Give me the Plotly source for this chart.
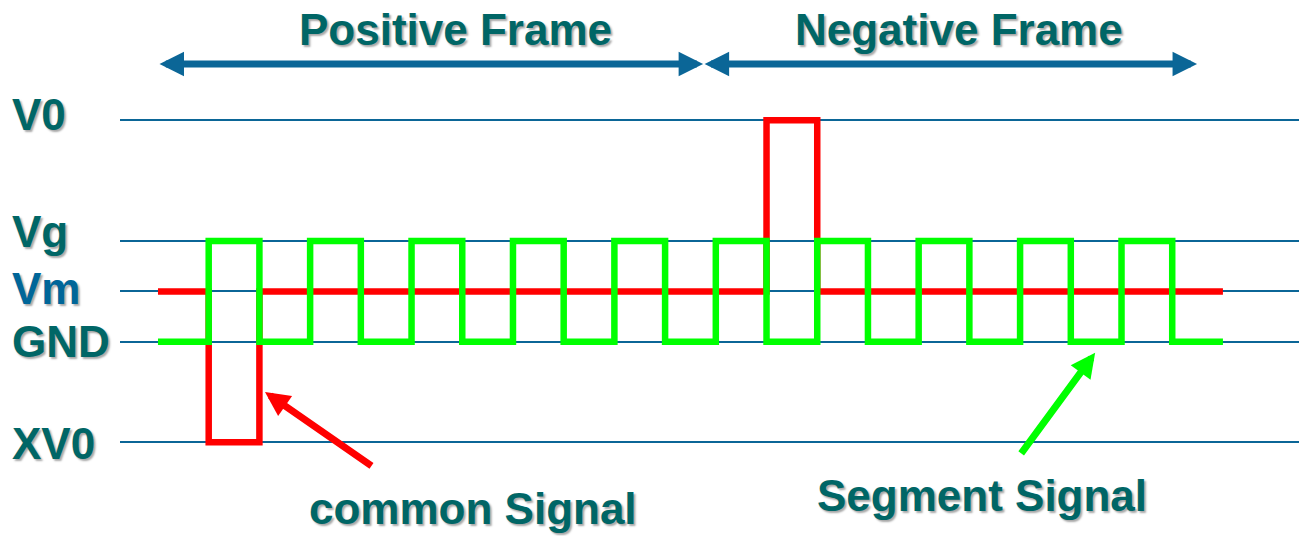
import plotly.graph_objects as go

# ---- data ----
level_names = ["V0", "Vg", "Vm", "GND", "XV0"]
level_values = [4.4, 2.0, 1.0, 0.0, -2.0]
lv = dict(zip(level_names, level_values))

time_slots = [0, 1, 2, 3, 4, 5, 6, 7, 8, 9, 10, 11, 12, 13, 14, 15, 16, 17, 18, 19, 20, 21]
segment_states = ["GND", "Vg", "GND", "Vg", "GND", "Vg", "GND", "Vg", "GND", "Vg", "GND",
                  "Vg", "GND", "Vg", "GND", "Vg", "GND", "Vg", "GND", "Vg", "GND", "GND"]
common_states = ["Vm", "XV0", "Vm", "Vm", "Vm", "Vm", "Vm", "Vm", "Vm", "Vm", "Vm",
                 "Vm", "V0", "Vm", "Vm", "Vm", "Vm", "Vm", "Vm", "Vm", "Vm", "Vm"]
segment_values = [lv[s] for s in segment_states]
common_values = [lv[s] for s in common_states]

frame_bounds = [0.0, 10.75, 20.49]
frame_names = ["Positive Frame", "Negative Frame"]

TEAL = "#006666"
BLUE = "#006699"
LINE = "#0b6697"
SHADOW = "2px 2px 2px #a8a8a8"

def font(color=TEAL):
    return dict(family="Liberation Sans, Arial, sans-serif", size=44, color=color,
                weight="bold", shadow=SHADOW)

fig = go.Figure()
fig.add_trace(go.Scatter(x=time_slots, y=common_values, mode="lines", line_shape="hv",
                         line=dict(color="#ff0000", width=6.5), hoverinfo="skip"))
fig.add_trace(go.Scatter(x=time_slots, y=segment_values, mode="lines", line_shape="hv",
                         line=dict(color="#00ff00", width=6.5), hoverinfo="skip"))

ann = []
# level labels
label_offsets = {"V0": 0.11, "Vg": 0.20, "Vm": 0.05, "GND": 0.0, "XV0": -0.02}
for name, val in zip(level_names, level_values):
    ann.append(dict(xref="paper", yref="y", x=0.008, y=val + label_offsets[name],
                    xanchor="left", yanchor="middle", showarrow=False, text=name,
                    font=font(BLUE if name == "Vm" else TEAL)))

# frame arrows and titles
arrow_y = 5.52
for i, name in enumerate(frame_names):
    a, b = frame_bounds[i], frame_bounds[i + 1]
    ann.append(dict(xref="x", yref="y", axref="x", ayref="y", x=b, y=arrow_y, ax=a, ay=arrow_y,
                    text="", showarrow=True, arrowside="end+start", arrowhead=2,
                    startarrowhead=2, arrowsize=0.7, startarrowsize=0.7, arrowwidth=7,
                    arrowcolor=LINE, standoff=0, startstandoff=0))
ann.append(dict(xref="x", yref="y", x=5.86, y=6.21, text=frame_names[0], showarrow=False,
                xanchor="center", yanchor="middle", font=font()))
ann.append(dict(xref="x", yref="y", x=15.8, y=6.21, text=frame_names[1], showarrow=False,
                xanchor="center", yanchor="middle", font=font()))

# signal callouts
ann.append(dict(xref="x", yref="y", axref="x", ayref="y", x=2.11, y=-1.0, ax=4.24, ay=-2.49,
                text="", showarrow=True, arrowhead=2, arrowsize=0.7, arrowwidth=7,
                arrowcolor="#ff0000", standoff=0))
ann.append(dict(xref="x", yref="y", axref="x", ayref="y", x=18.48, y=-0.22, ax=17.0, ay=-2.25,
                text="", showarrow=True, arrowhead=2, arrowsize=0.7, arrowwidth=7,
                arrowcolor="#00ff00", standoff=0))
ann.append(dict(xref="x", yref="y", x=6.21, y=-3.31, text="common Signal", showarrow=False,
                xanchor="center", yanchor="middle", font=font()))
ann.append(dict(xref="x", yref="y", x=16.25, y=-3.05, text="Segment Signal", showarrow=False,
                xanchor="center", yanchor="middle", font=font()))

fig.update_layout(
    width=1300, height=536, margin=dict(l=0, r=0, t=0, b=0),
    paper_bgcolor="white", plot_bgcolor="white", showlegend=False,
    annotations=ann,
    xaxis=dict(domain=[120 / 1300, 1299 / 1300], range=[-0.749, 22.50], showgrid=False,
               zeroline=False, showticklabels=False, ticks="", fixedrange=True),
    yaxis=dict(range=[-3.863, 6.793], tickvals=level_values, showticklabels=False,
               showgrid=True, gridcolor=LINE, gridwidth=2, zeroline=False, ticks="",
               fixedrange=True),
)
fig.write_html("out.html", config={"displayModeBar": False},
               post_script="document.body.style.margin='0';document.body.style.overflow='hidden';")
